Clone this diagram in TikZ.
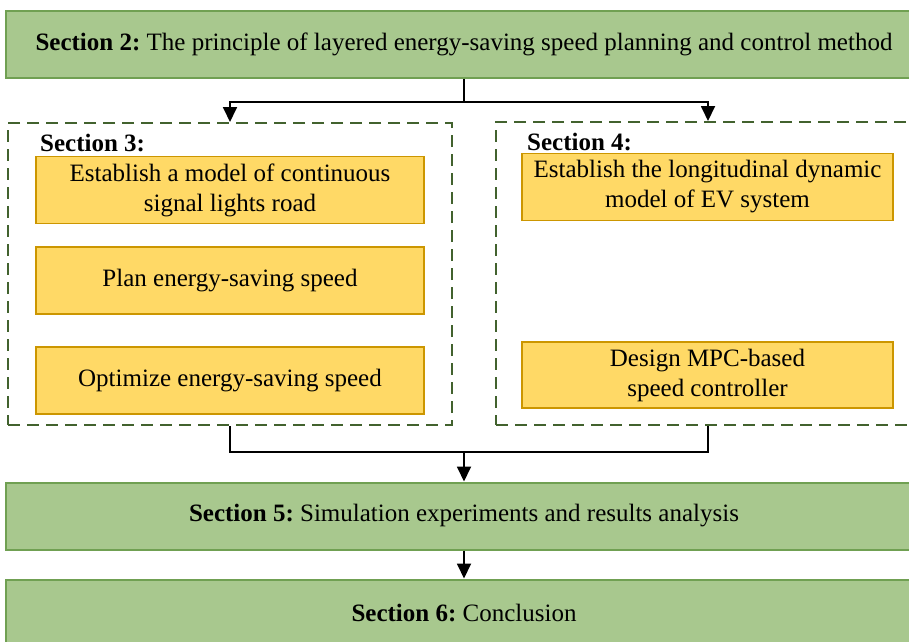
\documentclass[tikz,border=0pt]{standalone}
\usepackage{fontspec}
\setmainfont{Liberation Serif}
\usetikzlibrary{arrows.meta, positioning}

\definecolor{sectgreen}{RGB}{168,200,142}
\definecolor{sectline}{RGB}{112,160,82}
\definecolor{taskyellow}{RGB}{255,217,102}
\definecolor{taskline}{RGB}{204,150,0}
\definecolor{framegreen}{RGB}{66,98,46}
\frenchspacing

\begin{document}
\begin{tikzpicture}[x=1pt, y=-1pt,
    section/.style={rectangle, draw=sectline, fill=sectgreen, line width=2pt, minimum width=916pt, minimum height=67pt, inner sep=0pt, align=center, font=\fontsize{25}{30}\selectfont},
    task/.style={rectangle, draw=taskline, fill=taskyellow, line width=1.6pt, minimum height=67pt, inner sep=0pt, align=center, font=\fontsize{25}{30}\selectfont},
    sectframe/.style={rectangle, draw=framegreen, line width=2pt, dash pattern=on 12pt off 7pt, inner sep=0pt},
    heading/.style={inner sep=0pt, anchor=base west, font=\fontsize{25}{30}\selectfont\bfseries},
    line/.style={draw, line width=1.8pt},
    arrow/.style={line, -{Triangle[length=15pt, width=14pt]}}
]
\useasboundingbox (0,0) rectangle (909,641);
\clip (0,0) rectangle (909,641);

% Sections
\node[section] (sec2) at (464,44) {\textbf{Section 2:} The principle of layered energy-saving speed planning and control method};
\node[sectframe, minimum width=444pt, minimum height=302pt] (sec3) at (230,274) {};
\node[sectframe, minimum width=424pt, minimum height=303pt] (sec4) at (708,273.5) {};
\node[section] (sec5) at (464,516) {\textbf{Section 5:} Simulation experiments and results analysis};
\node[section] (sec6) at (464,613) {\textbf{Section 6:} Conclusion};

% Section 3 tasks
\node[heading] (sec3title) at (40,151) {Section 3:};
\node[task, minimum width=388pt] (road) at (230,190) {Establish a model of continuous\\signal lights road};
\node[task, minimum width=388pt, below=22pt of road] (plan) {Plan energy-saving speed};
\node[task, minimum width=388pt, below=31pt of plan] (optimize) {Optimize energy-saving speed};

% Section 4 tasks
\node[heading] (sec4title) at (527,150) {Section 4:};
\node[task, minimum width=371pt] (evmodel) at (707.5,187) {Establish the longitudinal dynamic\\model of EV system};
\node[task, minimum width=371pt, minimum height=66pt] (mpc) at (707.5,375) {Design MPC-based\\speed controller};

% Connections
\coordinate (split) at (464,102);
\coordinate (merge) at (464,452);
\path [line] (sec2.south) -- (split);
\path [arrow] (split) -| (sec3.north);
\path [arrow] (split) -| (sec4.north);
\path [line] (sec3.south) |- (merge) -| (sec4.south);
\path [arrow] (merge) -- (sec5.north);
\path [arrow] (sec5) -- (sec6);

\end{tikzpicture}
\end{document}
